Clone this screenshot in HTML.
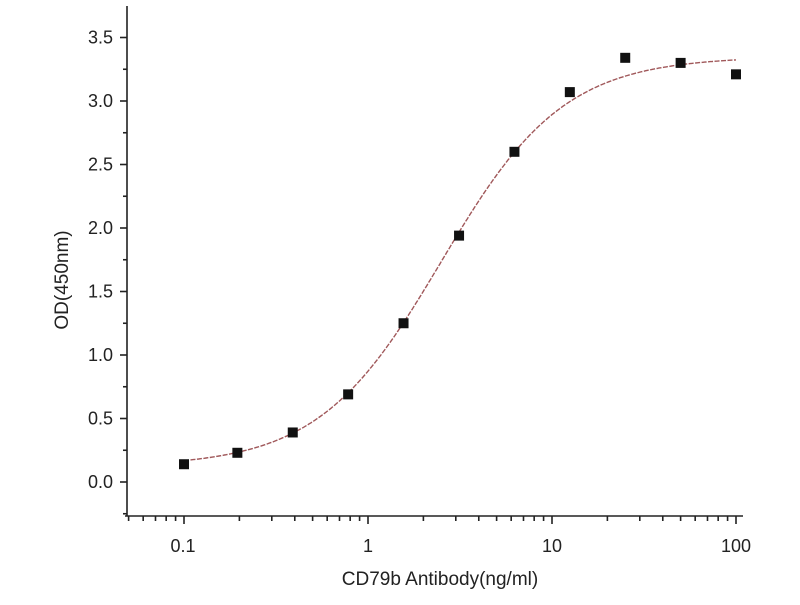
<!DOCTYPE html>
<html><head><meta charset="utf-8"><style>
html,body{margin:0;padding:0;background:#fff;}
svg text{font-family:"Liberation Sans",Arial,sans-serif;fill:#222;}
</style></head><body>
<svg id="s" width="800" height="600" viewBox="0 0 800 600" xmlns="http://www.w3.org/2000/svg">
<g stroke="#222" stroke-width="1.6" fill="none">
<line x1="127" y1="6" x2="127" y2="516"/>
<line x1="125" y1="516" x2="743" y2="516"/>
</g>
<g id="ticks" stroke="#222" stroke-width="1.6"></g>
<g id="labels" font-size="18" text-anchor="end"></g>
<g font-size="18" text-anchor="middle">
<text x="183" y="552">0.1</text>
<text x="368" y="552">1</text>
<text x="552" y="552">10</text>
<text x="736" y="552">100</text>
</g>
<text x="440" y="585" font-size="19" text-anchor="middle">CD79b Antibody(ng/ml)</text>
<text transform="translate(68,280) rotate(-90)" font-size="19" text-anchor="middle">OD(450nm)</text>
<path id="curve" fill="none" stroke="#a0585a" stroke-width="1.4" stroke-dasharray="5,1.5"/>
<g id="pts" fill="#111"></g>
</svg>
<script>
var NS="http://www.w3.org/2000/svg";
function X(v){return 368+184*Math.log10(v);}
function Y(v){return 482-127*v;}
function el(p,t,a){var e=document.createElementNS(NS,t);for(var k in a)e.setAttribute(k,a[k]);document.getElementById(p).appendChild(e);return e;}
for(var i=0;i<=15;i++){var v=i*0.25;var y=Y(v);if(y<6)continue;var major=i%2==0;
el("ticks","line",{x1:127,y1:y,x2:major?120:123,y2:y});
if(major){var t=el("labels","text",{x:113,y:y+6});t.textContent=v.toFixed(1);}}
el("ticks","line",{x1:127,y1:Y(-0.25),x2:123,y2:Y(-0.25)});
for(var d=-2;d<=2;d++){for(var m=1;m<=9;m++){var v=m*Math.pow(10,d);var x=X(v);if(x<127||x>743)continue;
el("ticks","line",{x1:x,y1:516,x2:x,y2:m==1?524:521});}}
var A=0.12,D=3.35,C=2.5,B=1.3,p="";
for(var i=0;i<=300;i++){var lx=-1+3*i/300;var v=Math.pow(10,lx);var y=A+(D-A)/(1+Math.pow(C/v,B));p+=(i?"L":"M")+X(v).toFixed(1)+" "+Y(y).toFixed(1);}
document.getElementById("curve").setAttribute("d",p);
var data=[[0.1,0.14],[0.195,0.23],[0.39,0.39],[0.78,0.69],[1.56,1.25],[3.125,1.94],[6.25,2.6],[12.5,3.07],[25,3.34],[50,3.3],[100,3.21]];
data.forEach(function(d){el("pts","rect",{x:X(d[0])-5,y:Y(d[1])-5,width:10,height:10});});
</script>
</body></html>
